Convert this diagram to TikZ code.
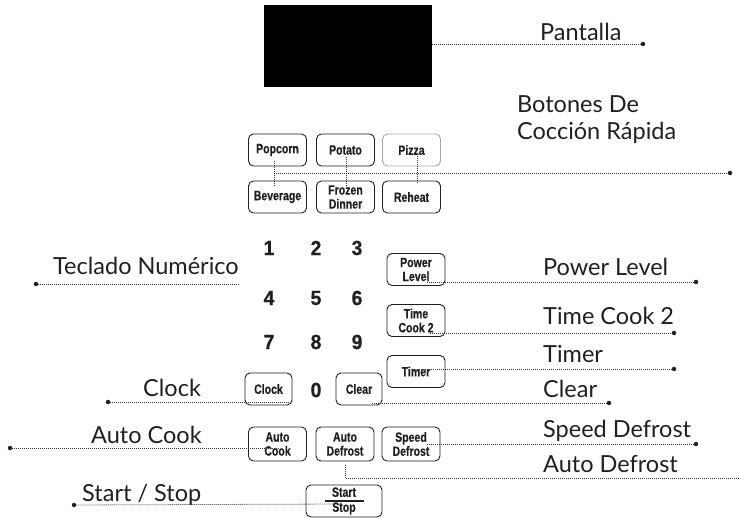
\documentclass[tikz,border=0pt]{standalone}
\usepackage{fontspec}
\setmainfont{Lato}
\newfontfamily\keyfont[FakeStretch=0.78,FakeBold=0.6]{Liberation Sans Bold}
\newfontfamily\digitfont[FakeStretch=0.95,FakeBold=0.6]{Liberation Sans Bold}
\usetikzlibrary{calc,positioning}
\definecolor{ink}{HTML}{231F20}

\begin{document}
\begin{tikzpicture}[x=1pt, y=-1pt,
  key/.style={draw=ink, line width=0.9pt, rounded corners=5pt, inner sep=0pt,
    align=center, text=ink, minimum width=58pt, minimum height=32pt,
    font=\keyfont\fontsize{13.5}{14}\selectfont},
  digit/.style={inner sep=0pt, text=ink, font=\digitfont\fontsize{20.5}{20.5}\selectfont},
  lbl/.style={anchor=base west, inner sep=0pt, align=left, text=ink,
    font=\fontsize{23.5}{27}\selectfont},
  dot/.style={circle, fill=ink, inner sep=0pt, minimum size=4.5pt},
  lead/.style={draw=ink!90, line width=0.8pt, dash pattern=on 0.8pt off 1.2pt}]
  \useasboundingbox (0,0) rectangle (739,518);

  % display
  \node[fill=black, inner sep=0pt, minimum width=168pt, minimum height=82pt] (display) at (348,46) {};

  % quick cook keys
  \node[key] (popcorn) at (277.5,150) {Popcorn};
  \node[key] (potato) at (345.5,150) {Potato};
  \node[key, draw=gray!70] (pizza) at (411.5,150) {Pizza};
  \node[key] (beverage) at (277.5,197) {Beverage};
  \node[key] (frozen) at (345.5,197) {Frozen\\Dinner};
  \node[key] (reheat) at (411.5,197) {Reheat};

  % number pad
  \foreach \d/\px/\py in {1/269/248, 2/316/248, 3/357/248,
                          4/269/298, 5/316/298, 6/357/298,
                          7/269/342, 8/316/342, 9/357/342, 0/316/390}
    \node[digit] (n\d) at (\px,\py) {\d};

  \node[key] (power) at (416,269.5) {Power\\Level};
  \node[key] (timecook) at (416,320.5) {Time\\Cook 2};
  \node[key] (timer) at (416,371.5) {Timer};
  \node[key, minimum width=47pt] (clock) at (268.5,389) {Clock};
  \node[key, minimum width=46pt] (clear) at (359,389) {Clear};
  \node[key, minimum height=34pt] (autocook) at (277.5,444) {Auto\\Cook};
  \node[key, minimum height=34pt] (autodefrost) at (345,444) {Auto\\Defrost};
  \node[key, minimum height=34pt] (speeddefrost) at (411,444) {Speed\\Defrost};
  \node[key, minimum width=76pt] (startstop) at (344,501) {Start\\[1pt]Stop};
  \draw[ink, line width=1.5pt] ($(startstop.center)+(-19.5,0)$) -- ++(39,0);

  % labels
  \node[lbl] (l-pantalla) at (540,41) {Pantalla};
  \node[lbl] (l-quick) at (517,140) {Botones De\\Cocción Rápida};
  \node[lbl] (l-power) at (543,276) {Power Level};
  \node[lbl] (l-timecook) at (543,325) {Time Cook 2};
  \node[lbl] (l-timer) at (543,363) {Timer};
  \node[lbl] (l-clear) at (543,398) {Clear};
  \node[lbl] (l-speed) at (543,438) {Speed Defrost};
  \node[lbl] (l-autodef) at (543,472) {Auto Defrost};
  \node[lbl] (l-teclado) at (53,275) {Teclado Numérico};
  \node[lbl] (l-clock) at (143,397) {Clock};
  \node[lbl] (l-autocook) at (91,443) {Auto Cook};
  \node[lbl] (l-start) at (82,501) {Start / Stop};

  % leader ends
  \node[dot] (d-pantalla) at (643,44) {};
  \node[dot] (d-quick) at (730,173) {};
  \node[dot] (d-power) at (696,282) {};
  \node[dot] (d-timecook) at (674,333) {};
  \node[dot] (d-timer) at (674,369) {};
  \node[dot] (d-clear) at (609,403) {};
  \node[dot] (d-speed) at (696,444) {};
  \node[dot] (d-teclado) at (36,284) {};
  \node[dot] (d-clock) at (108,402) {};
  \node[dot] (d-autocook) at (10,448) {};
  \node[dot] (d-start) at (74,505) {};

  % leader starts
  \coordinate (s-quick) at (274,173);
  \coordinate (s-power) at (427,282);
  \coordinate (s-timecook) at (430,333);
  \coordinate (s-timer) at (417,369);
  \coordinate (s-clear) at (372,403);
  \coordinate (s-speed) at (427,444);
  \coordinate (s-autodef) at (345,465);
  \coordinate (e-autodef) at (739,478);
  \coordinate (s-teclado) at (240,284);
  \coordinate (s-clock) at (290,402);
  \coordinate (s-autocook) at (280,448);
  \coordinate (s-start) at (340,504);

  \draw[lead] (display.east |- d-pantalla) -- (d-pantalla);
  \draw[lead] (274,161) -- (274,186);
  \draw[lead] (346,157) -- (346,187);
  \draw[lead] (417,156) -- (417,183);
  \draw[lead] (s-quick) -- (d-quick);
  \draw[lead] (s-power) -- (d-power);
  \draw[lead] (s-timecook) -- (d-timecook);
  \draw[lead] (s-timer) -- (d-timer);
  \draw[lead] (s-clear) -- (d-clear);
  \draw[lead] (s-speed) -- (d-speed);
  \draw[lead] (s-autodef) |- (e-autodef);
  \draw[lead] (d-teclado) -- (s-teclado);
  \draw[lead] (d-clock) -- (s-clock);
  \draw[lead] (d-autocook) -- (s-autocook);
  \draw[lead] (d-start) -- (s-start);
\end{tikzpicture}
\end{document}
